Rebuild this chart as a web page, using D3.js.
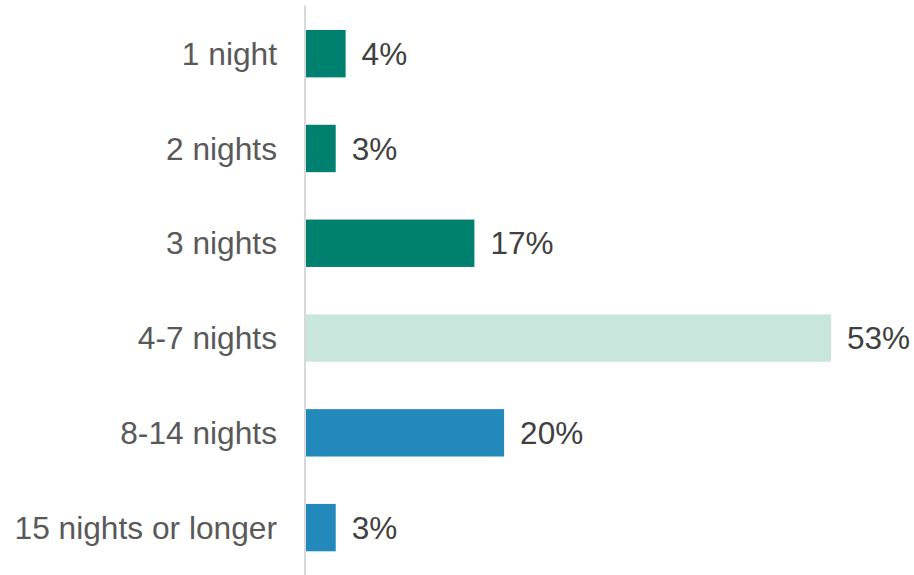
<!DOCTYPE html>
<html>
<head>
<meta charset="utf-8">
<script src="https://cdn.jsdelivr.net/npm/d3@7"></script>
<style>
  html, body { margin: 0; padding: 0; background: #fff; }
  svg { display: block; }
  text { font-family: "Liberation Sans", Arial, sans-serif; }
</style>
</head>
<body>
<svg id="chart" width="914" height="575"></svg>
<script>
// Length of stay, share of trips (%)
const categories = ["1 night", "2 nights", "3 nights", "4-7 nights", "8-14 nights", "15 nights or longer"];
const shares = [4, 3, 17, 53, 20, 3];
const barColors = ["#00816F", "#00816F", "#00816F", "#C9E6DC", "#2389BA", "#2389BA"];

const svg = d3.select("#chart");
const width = 914, height = 575;

const y = d3.scaleBand()
  .domain(categories)
  .range([6.3, 575])
  .paddingInner(0.5)
  .paddingOuter(0.25);

const x = d3.scaleLinear()
  .domain([0, 53])
  .range([306, 831]);

const rows = categories.map((c, i) => ({ cat: c, value: shares[i], color: barColors[i] }));

// bars
svg.append("g").selectAll("rect")
  .data(rows)
  .join("rect")
  .attr("x", x(0))
  .attr("y", d => y(d.cat))
  .attr("width", d => x(d.value) - x(0))
  .attr("height", y.bandwidth())
  .attr("fill", d => d.color);

// category axis: a plain vertical rule with labels, no ticks
const axis = svg.append("g")
  .attr("transform", `translate(${x(0) - 1},0)`)
  .call(d3.axisLeft(y).tickSize(0).tickPadding(28));
axis.select(".domain")
  .attr("d", `M0,5.5V${height}`)
  .attr("stroke", "#D9D9D9")
  .attr("stroke-width", 2);
axis.selectAll("text")
  .attr("font-size", "31.7px")
  .attr("font-family", "'Liberation Sans', Arial, sans-serif")
  .attr("fill", "#595959")
  .attr("dy", "0.35em");

// value labels
svg.append("g").selectAll("text")
  .data(rows)
  .join("text")
  .attr("x", d => x(d.value) + 16)
  .attr("y", d => y(d.cat) + y.bandwidth() / 2)
  .attr("dy", "0.35em")
  .attr("font-size", "31.5px")
  .attr("fill", "#404040")
  .text(d => d.value + "%");
</script>
</body>
</html>
